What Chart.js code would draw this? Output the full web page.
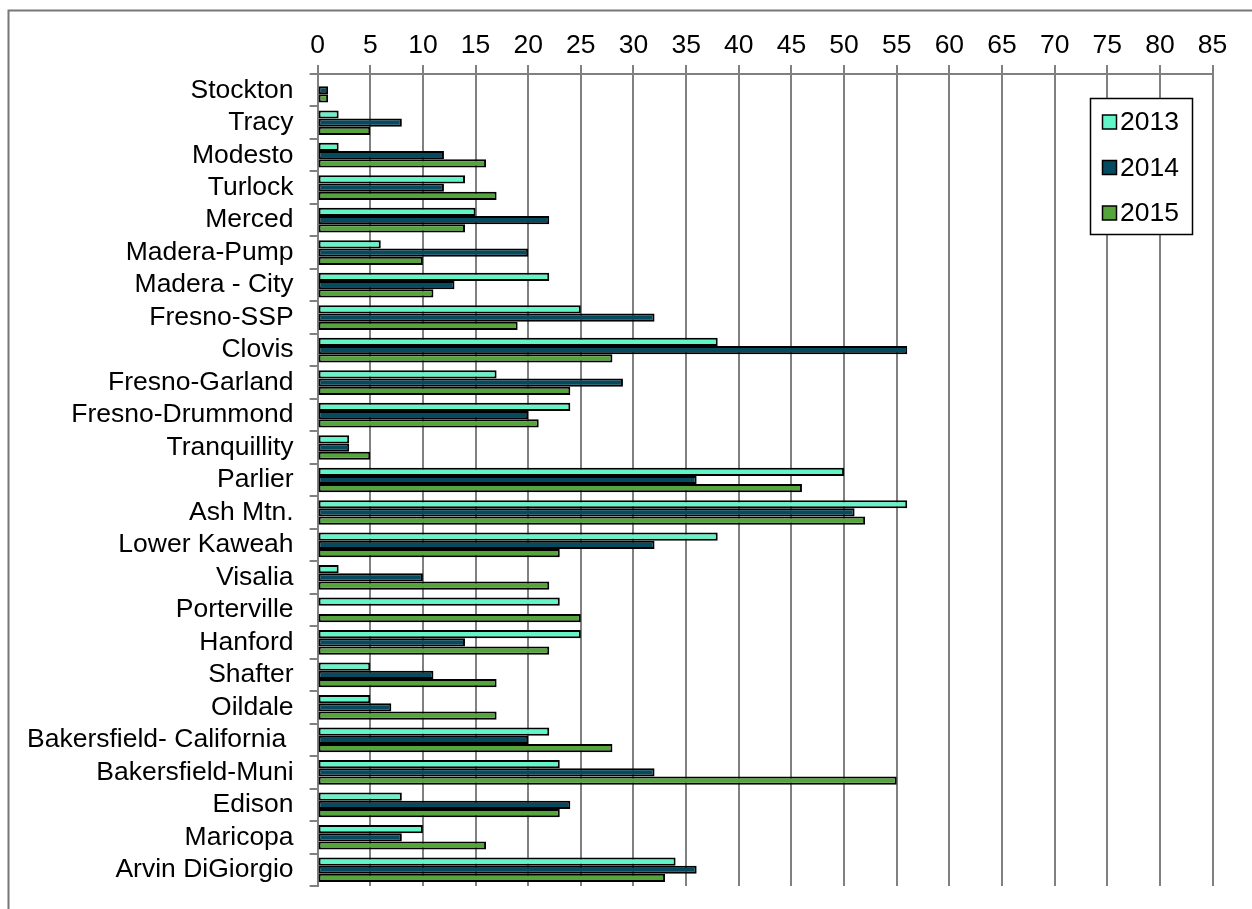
<!DOCTYPE html>
<html>
<head>
<meta charset="utf-8">
<script src="https://cdn.jsdelivr.net/npm/chart.js@4/dist/chart.umd.min.js"></script>
<style>
  html, body { margin: 0; padding: 0; background: #ffffff; }
  #wrap { position: relative; width: 1252px; height: 909px; }
</style>
</head>
<body>
<div id="wrap"><canvas id="c" width="1252" height="909"></canvas></div>
<script>
// Monitoring sites, top to bottom
const sites = [
  "Stockton", "Tracy", "Modesto", "Turlock", "Merced", "Madera-Pump",
  "Madera - City", "Fresno-SSP", "Clovis", "Fresno-Garland", "Fresno-Drummond",
  "Tranquillity", "Parlier", "Ash Mtn.", "Lower Kaweah", "Visalia", "Porterville",
  "Hanford", "Shafter", "Oildale", "Bakersfield- California ", "Bakersfield-Muni",
  "Edison", "Maricopa", "Arvin DiGiorgio"
];

// Yearly counts per site
const y2013 = [0, 2, 2, 14, 15, 6, 22, 25, 38, 17, 24, 3, 50, 56, 38, 2, 23, 25, 5, 5, 22, 23, 8, 10, 34];
const y2014 = [1, 8, 12, 12, 22, 20, 13, 32, 56, 29, 20, 3, 36, 51, 32, 10, 0, 14, 11, 7, 20, 32, 24, 8, 36];
const y2015 = [1, 5, 16, 17, 14, 10, 11, 19, 28, 24, 21, 5, 46, 52, 23, 22, 25, 22, 17, 17, 28, 55, 23, 16, 33];

const years = ["2013", "2014", "2015"];
const xTicksMax = 85;
const xTickStep = 5;

const palette = ["#62F5C8", "#054A5E", "#55A53C"];
const FONT = "'Liberation Sans', Arial, sans-serif";
const FONT_SIZE = 26.5;
const GRID = "#808080";

// Thin frame along the top and left edges of the chart
const framePlugin = {
  id: "frame",
  beforeDraw(chart) {
    const ctx = chart.ctx;
    ctx.save();
    ctx.strokeStyle = "#777777";
    ctx.lineWidth = 2;
    ctx.beginPath();
    ctx.moveTo(8.5, 909);
    ctx.lineTo(8.5, 10.5);
    ctx.lineTo(1252, 10.5);
    ctx.stroke();
    ctx.restore();
  }
};

// Boxed legend drawn over the plot area, at its upper right
const boxLegend = {
  id: "boxLegend",
  afterDraw(chart) {
    const ctx = chart.ctx;
    const x0 = 1090.5, y0 = 98.5, w = 102, h = 136;
    ctx.save();
    ctx.fillStyle = "#ffffff";
    ctx.fillRect(x0, y0, w, h);
    ctx.strokeStyle = "#000000";
    ctx.lineWidth = 1.5;
    ctx.strokeRect(x0, y0, w, h);
    ctx.font = FONT_SIZE + "px " + FONT;
    ctx.textBaseline = "middle";
    ctx.textAlign = "left";
    chart.data.datasets.forEach((ds, i) => {
      const cy = 122 + i * 45.5;
      ctx.fillStyle = ds.backgroundColor;
      ctx.fillRect(1102.5, cy - 7, 14, 14);
      ctx.lineWidth = 1.5;
      ctx.strokeStyle = "#000000";
      ctx.strokeRect(1102.5, cy - 7, 14, 14);
      ctx.fillStyle = "#000000";
      ctx.fillText(ds.label, 1120, cy + 1);
    });
    ctx.restore();
  }
};

const series = [y2013, y2014, y2015];

new Chart(document.getElementById("c"), {
  type: "bar",
  data: {
    labels: sites,
    datasets: series.map((vals, i) => ({
      label: years[i],
      data: vals,
      backgroundColor: palette[i],
      borderColor: "#000000",
      borderWidth: 2,
      borderSkipped: false,
      barPercentage: 1.0,
      categoryPercentage: 0.76
    }))
  },
  options: {
    indexAxis: "y",
    responsive: false,
    animation: false,
    layout: { padding: { left: 0, right: 39.4, top: 0, bottom: 23 } },
    plugins: {
      legend: { display: false },
      tooltip: { enabled: false }
    },
    scales: {
      x: {
        position: "top",
        min: 0,
        max: xTicksMax,
        ticks: {
          stepSize: xTickStep,
          color: "#000000",
          font: { family: FONT, size: FONT_SIZE },
          padding: 3,
          maxRotation: 0,
          autoSkip: false
        },
        grid: {
          color: GRID,
          lineWidth: 2,
          tickLength: 9,
          drawTicks: true
        },
        border: { display: true, color: GRID, width: 2 },
        afterFit(scale) {
          scale.height = 74;
          scale.paddingLeft = 0;
          scale.paddingRight = 0;
        }
      },
      y: {
        ticks: {
          color: "#000000",
          font: { family: FONT, size: FONT_SIZE },
          padding: 16,
          autoSkip: false
        },
        grid: {
          offset: true,
          drawOnChartArea: false,
          drawTicks: true,
          tickLength: 8,
          color: GRID,
          lineWidth: 2
        },
        border: { display: true, color: GRID, width: 2 },
        afterFit(scale) {
          scale.width = 317.6;
          scale.paddingTop = 0;
          scale.paddingBottom = 0;
        }
      }
    }
  },
  plugins: [framePlugin, boxLegend]
});
</script>
</body>
</html>
